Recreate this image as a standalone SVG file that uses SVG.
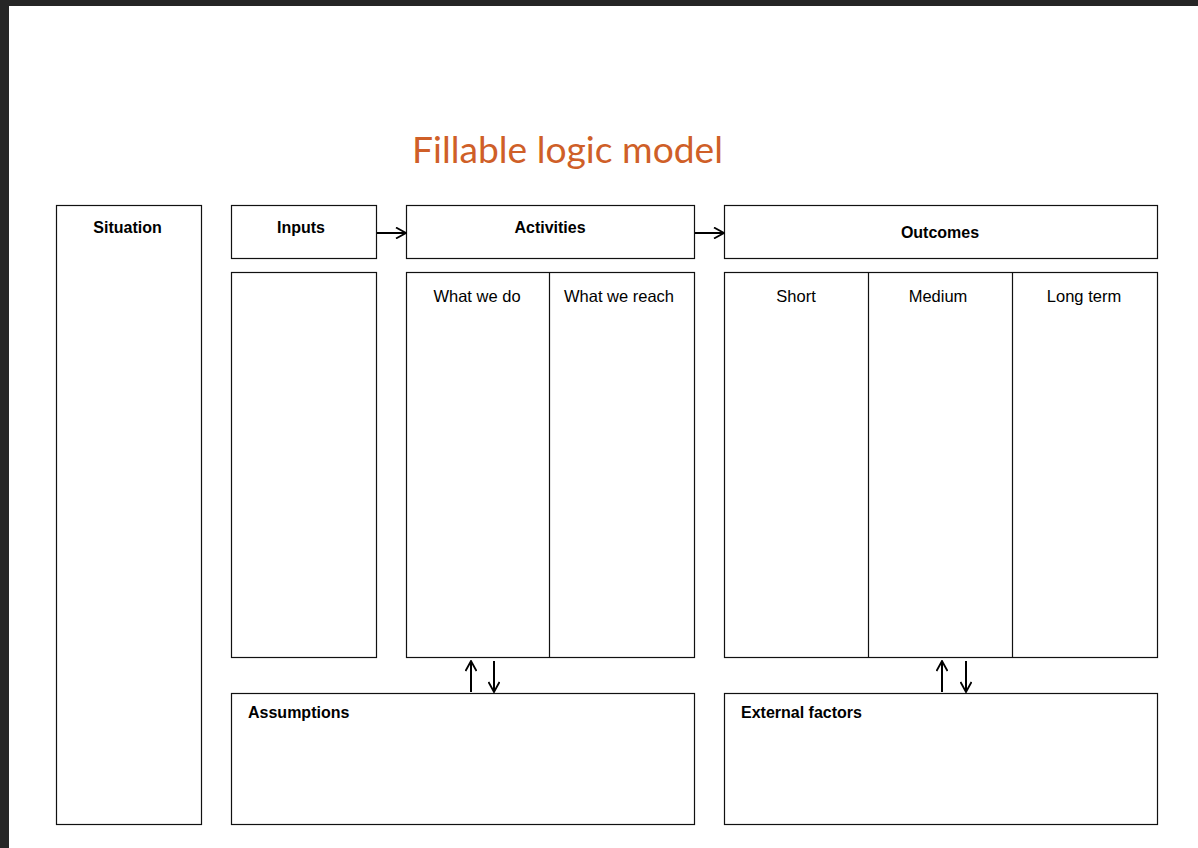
<svg xmlns="http://www.w3.org/2000/svg" width="1198" height="848" viewBox="0 0 1198 848">
<defs>
<style>
.box{fill:#fff;stroke:#111;stroke-width:1.2}
.line{stroke:#111;stroke-width:1.2;fill:none}
.arr{stroke:#000;stroke-width:2;fill:none}
.h{font-family:"Liberation Sans",Arial,sans-serif;font-weight:bold;font-size:16px;fill:#000}
.n{font-family:"Liberation Sans",Arial,sans-serif;font-size:16.5px;fill:#000}
.title{font-family:Lato,"Liberation Sans",sans-serif;font-size:36px;fill:#cf5f28}
</style>
<marker id="ah" viewBox="0 0 12 12" refX="11" refY="6" markerWidth="12" markerHeight="12" markerUnits="userSpaceOnUse" orient="auto">
<path d="M1,0.5 L11,6 L1,11.5" fill="none" stroke="#000" stroke-width="1.8"/>
</marker>
</defs>
<rect x="0" y="0" width="1198" height="848" fill="#fff"/>
<rect x="0" y="0" width="1198" height="6" fill="#262626"/>
<rect x="0" y="0" width="9" height="848" fill="#262626"/>
<text class="title" x="412" y="163" textLength="311" lengthAdjust="spacingAndGlyphs">Fillable logic model</text>
<g id="situation"><rect class="box" x="56.5" y="205.5" width="145" height="619"/><text class="h" x="127.5" y="233" text-anchor="middle">Situation</text></g>
<g id="inputs"><rect class="box" x="231.5" y="205.5" width="145" height="53"/><text class="h" x="301" y="233" text-anchor="middle">Inputs</text></g>
<g id="inputs-body"><rect class="box" x="231.5" y="272.5" width="145" height="385"/></g>
<g id="activities"><rect class="box" x="406.5" y="205.5" width="288" height="53"/><text class="h" x="550" y="233" text-anchor="middle">Activities</text></g>
<g id="activities-body"><rect class="box" x="406.5" y="272.5" width="288" height="385"/><line class="line" x1="549.5" y1="272.5" x2="549.5" y2="657.5"/>
<text class="n" x="477" y="302" text-anchor="middle">What we do</text><text class="n" x="619" y="302" text-anchor="middle">What we reach</text></g>
<g id="outcomes"><rect class="box" x="724.5" y="205.5" width="433" height="53"/><text class="h" x="940" y="238" text-anchor="middle">Outcomes</text></g>
<g id="outcomes-body"><rect class="box" x="724.5" y="272.5" width="433" height="385"/><line class="line" x1="868.5" y1="272.5" x2="868.5" y2="657.5"/><line class="line" x1="1012.5" y1="272.5" x2="1012.5" y2="657.5"/>
<text class="n" x="796" y="302" text-anchor="middle">Short</text><text class="n" x="938" y="302" text-anchor="middle">Medium</text><text class="n" x="1084" y="302" text-anchor="middle">Long term</text></g>
<g id="assumptions"><rect class="box" x="231.5" y="693.5" width="463" height="131"/><text class="h" x="248" y="718">Assumptions</text></g>
<g id="external"><rect class="box" x="724.5" y="693.5" width="433" height="131"/><text class="h" x="741" y="718">External factors</text></g>
<g id="connectors">
<line class="arr" x1="377" y1="233" x2="406" y2="233" marker-end="url(#ah)"/>
<line class="arr" x1="695" y1="233" x2="724" y2="233" marker-end="url(#ah)"/>
<line class="arr" x1="471" y1="692" x2="471" y2="661" marker-end="url(#ah)"/>
<line class="arr" x1="494" y1="661" x2="494" y2="692" marker-end="url(#ah)"/>
<line class="arr" x1="942" y1="692" x2="942" y2="661" marker-end="url(#ah)"/>
<line class="arr" x1="966" y1="661" x2="966" y2="692" marker-end="url(#ah)"/>
</g>
</svg>
